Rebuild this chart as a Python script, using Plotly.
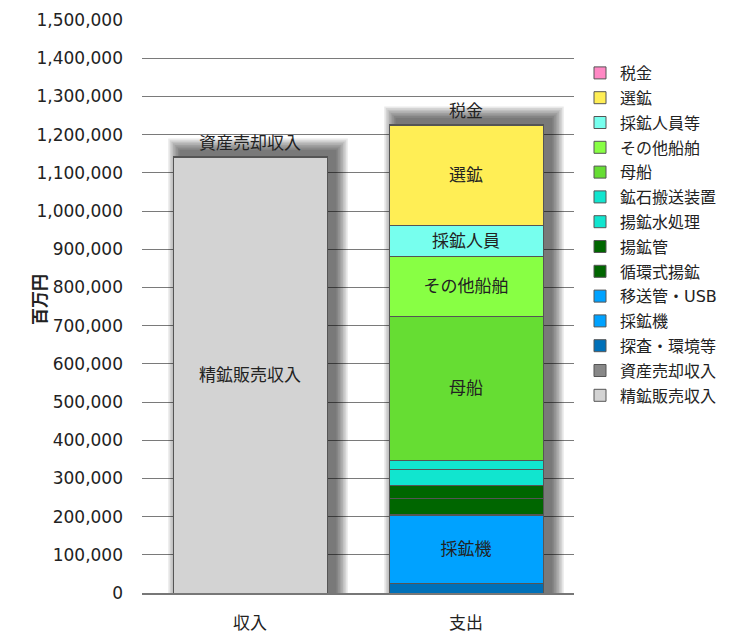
import plotly.graph_objects as go

categories = ["収入", "支出"]

# series listed bottom-to-top of the stacks; values per category [収入, 支出]
series_names = ["精鉱販売収入", "資産売却収入", "探査・環境等", "採鉱機", "移送管・USB",
                "循環式揚鉱", "揚鉱管", "揚鉱水処理", "鉱石搬送装置", "母船",
                "その他船舶", "採鉱人員等", "選鉱", "税金"]
series_values = [
    [1140000, None],
    [3000, None],
    [None, 24000],
    [None, 180000],
    [None, 2000],
    [None, 41000],
    [None, 35000],
    [None, 41000],
    [None, 24000],
    [None, 377000],
    [None, 157000],
    [None, 81000],
    [None, 263000],
    [None, 2000],
]
series_labels = ["精鉱販売収入", "資産売却収入", "", "採鉱機", "", "", "", "", "",
                 "母船", "その他船舶", "採鉱人員", "選鉱", "税金"]
series_colors = ["#D3D3D3", "#888888", "#0070B8", "#00A2FF", "#00A2FF",
                 "#006600", "#006600", "#11E5CF", "#11E5CF", "#66DD33",
                 "#88FF44", "#77FFEE", "#FFEE55", "#FF88C4"]
outside_labels = {"資産売却収入", "税金"}

y_max = 1500000
y_dtick = 100000

FONT = "DejaVu Sans, Noto Sans CJK JP, sans-serif"

fig = go.Figure()
n = len(series_names)
for idx, (name, vals, lab, col) in enumerate(zip(series_names, series_values, series_labels, series_colors)):
    texts = [lab if v is not None else "" for v in vals]
    fig.add_trace(go.Bar(
        name=name, x=categories, y=vals, legendgroup=name, legendrank=1000 + n - idx,
        marker=dict(color=col, line=dict(color="#555555", width=1)),
        text=texts,
        textposition="outside" if name in outside_labels else "inside",
        insidetextanchor="middle",
        textfont=dict(size=17, color="#222222", family=FONT),
        constraintext="none",
        cliponaxis=False,
        hoverinfo="name+y",
    ))

# soft drop shadow behind each bar stack
L, R, T, B = 142, 164, 20, 40
W, H = 738, 633
pw, ph = W - L - R, H - T - B
px_x = len(categories) / pw  # category units per pixel
px_y = y_max / ph
half = (1 - 0.287) / 2
shapes = []
totals = []
for i in range(len(categories)):
    totals.append(sum(v[i] for v in series_values if v[i] is not None))
for i, tot in enumerate(totals):
    for k in range(1, 9):
        e = k * 1.6
        dx, dy = 8, 5
        shapes.append(dict(
            type="rect", xref="x", yref="y", layer="between",
            x0=i - half + (dx - e) * px_x, x1=i + half + (dx + e) * px_x,
            y0=0, y1=tot + (dy + e) * px_y,
            fillcolor="rgba(0,0,0,0.085)", line=dict(width=0),
        ))

fig.update_layout(
    width=W, height=H,
    margin=dict(l=L, r=R, t=T, b=B, autoexpand=False),
    barmode="stack", bargap=0.287,
    plot_bgcolor="white", paper_bgcolor="white",
    font=dict(family=FONT, size=17, color="#222222"),
    shapes=shapes,
    showlegend=True,
    legend=dict(traceorder="grouped", tracegroupgap=1,
                x=(580 - L) / pw, xanchor="left", y=(H - B - 56) / ph, yanchor="top",
                font=dict(size=16, family=FONT, color="#222222"),
                bgcolor="rgba(0,0,0,0)", itemclick=False, itemwidth=30),
    xaxis=dict(showgrid=False, showline=True, linecolor="#777777", linewidth=1.5,
               ticks="", ticklabelstandoff=14, tickfont=dict(size=17), automargin=False),
    yaxis=dict(range=[0, y_max], dtick=y_dtick, tickformat=",", showgrid=True,
               gridcolor="#7a7a7a", gridwidth=1.2, zeroline=False, showline=False,
               ticks="", ticklabelstandoff=18, tickfont=dict(size=17), automargin=False),
    annotations=[dict(text="<b>百万円</b>", textangle=-90, xref="paper", yref="paper",
                      x=(28 - L) / pw, y=(H - B - 300) / ph, showarrow=False,
                      font=dict(size=17, family=FONT, color="#222222"))],
)

fig.write_html("out.html")
